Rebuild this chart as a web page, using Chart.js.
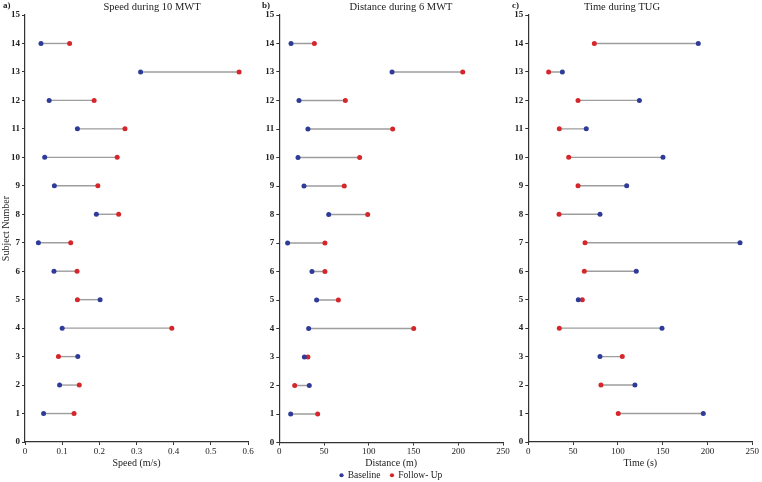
<!DOCTYPE html>
<html>
<head>
<meta charset="utf-8">
<script src="https://cdn.jsdelivr.net/npm/chart.js@4.4.0/dist/chart.umd.min.js"></script>
<style>
  html, body { margin: 0; padding: 0; background: #fff; overflow: hidden; }
  #wrap { position: relative; width: 762px; height: 482px; }
  canvas { position: absolute; top: 0; }
</style>
</head>
<body>
<div id="wrap">
  <canvas id="speedChart" width="256" height="482" style="left:0px"></canvas>
  <canvas id="timeChart" width="254" height="482" style="left:508px"></canvas>
  <canvas id="distChart" width="256" height="490" style="left:256px"></canvas>
</div>
<script>
// data
const subjects = [1, 2, 3, 4, 5, 6, 7, 8, 9, 10, 11, 12, 13, 14];
const subjectTicks = [0, 1, 2, 3, 4, 5, 6, 7, 8, 9, 10, 11, 12, 13, 14, 15];

const speedBaseline = [0.050, 0.093, 0.142, 0.100, 0.202, 0.078, 0.036, 0.192, 0.079, 0.053, 0.141, 0.065, 0.311, 0.043];
const speedFollowUp = [0.132, 0.146, 0.090, 0.395, 0.141, 0.140, 0.123, 0.252, 0.196, 0.248, 0.269, 0.186, 0.576, 0.120];
const speedTicks = [0, 0.1, 0.2, 0.3, 0.4, 0.5, 0.6];

const distBaseline = [12.7, 33.5, 28, 32.8, 41.7, 36.5, 9.3, 55.2, 27.6, 20.9, 32, 22, 126, 13.1];
const distFollowUp = [42.9, 17.2, 32, 150.2, 66, 51, 51, 98.8, 72.6, 89.8, 126.7, 73.8, 205, 39.2];
const distTicks = [0, 50, 100, 150, 200, 250];

const timeBaseline = [195.3, 119, 80, 149.2, 55.8, 120.5, 236.3, 80, 109.8, 150.3, 64.7, 124, 38, 189.7];
const timeFollowUp = [100.4, 81.1, 104.9, 34.6, 60.3, 62.5, 63.3, 34.3, 55.5, 45.1, 34.6, 55.5, 22.7, 73.7];
const timeTicks = [0, 50, 100, 150, 200, 250];

const seriesNames = ['Baseline', 'Follow- Up'];

const serif = '"Liberation Serif", "Times New Roman", serif';
const blue = '#2f3b98';
const red = '#d5272b';
const axisColor = '#333';

// draws the panel letter and the panel title
const panelText = {
    id: 'panelText',
    afterDraw(chart, args, opts) {
        const ctx = chart.ctx;
        ctx.save();
        ctx.fillStyle = '#222';
        ctx.textBaseline = 'middle';
        ctx.font = 'bold 9px ' + serif;
        ctx.textAlign = 'left';
        ctx.fillText(opts.tag, opts.tagX, 6);
        ctx.font = '10.5px ' + serif;
        ctx.textAlign = 'center';
        ctx.fillText(opts.title, opts.titleX, 7);
        ctx.restore();
    }
};

function buildDatasets(baseline, followUp) {
    const sets = [
        {
            label: seriesNames[0],
            data: subjects.map((s, i) => ({x: baseline[i], y: s})),
            backgroundColor: blue,
            borderColor: blue,
            pointRadius: 2.5,
            borderWidth: 0
        },
        {
            label: seriesNames[1],
            data: subjects.map((s, i) => ({x: followUp[i], y: s})),
            backgroundColor: red,
            borderColor: red,
            pointRadius: 2.5,
            borderWidth: 0
        }
    ];
    // connecting segments, drawn under the dots
    subjects.forEach((s, i) => {
        sets.push({
            label: '',
            data: [{x: baseline[i], y: s}, {x: followUp[i], y: s}],
            showLine: true,
            borderColor: '#9d9d9d',
            borderWidth: 1.4,
            pointRadius: 0
        });
    });
    return sets;
}

function makeChart(id, o) {
    const ctx = document.getElementById(id).getContext('2d');
    return new Chart(ctx, {
        type: 'scatter',
        data: { datasets: buildDatasets(o.baseline, o.followUp) },
        plugins: [panelText],
        options: {
            responsive: false,
            animation: false,
            layout: { padding: { top: 15, right: o.padRight, bottom: o.padBottom, left: 0 } },
            plugins: {
                tooltip: { enabled: false },
                legend: {
                    display: o.legend,
                    position: 'bottom',
                    fullSize: false,
                    labels: {
                        usePointStyle: true,
                        pointStyle: 'circle',
                        boxWidth: 3,
                        boxHeight: 3,
                        padding: 10,
                        color: '#222',
                        font: { family: serif, size: 9.5 },
                        filter: item => seriesNames.includes(item.text)
                    }
                },
                panelText: { tag: o.tag, tagX: o.tagX, title: o.title, titleX: o.titleX }
            },
            scales: {
                x: {
                    type: 'linear',
                    min: o.ticks[0],
                    max: o.ticks[o.ticks.length - 1],
                    afterBuildTicks: s => { s.ticks = o.ticks.map(v => ({value: v})); },
                    afterFit: s => { s.height = o.xHeight; },
                    border: { display: true, color: axisColor, width: 1.2 },
                    grid: { drawOnChartArea: false, tickLength: 3, color: axisColor },
                    ticks: { padding: 1, color: '#222', font: { family: serif, size: 9 } },
                    title: {
                        display: true,
                        text: o.xTitle,
                        color: '#222',
                        padding: { top: 0, bottom: o.xTitlePad },
                        font: { family: serif, size: 10 }
                    }
                },
                y: {
                    type: 'linear',
                    min: 0,
                    max: 15,
                    afterBuildTicks: s => { s.ticks = subjectTicks.map(v => ({value: v})); },
                    afterFit: s => { s.width = o.yWidth; },
                    border: { display: true, color: axisColor, width: 1.2 },
                    grid: { drawOnChartArea: false, tickLength: 3, color: axisColor },
                    ticks: { padding: 2, color: '#222', font: { family: serif, size: 9, weight: 'bold' } },
                    title: {
                        display: o.yTitle !== '',
                        text: o.yTitle,
                        color: '#222',
                        padding: 0,
                        font: { family: serif, size: 10 }
                    }
                }
            }
        }
    });
}

makeChart('speedChart', {
    baseline: speedBaseline, followUp: speedFollowUp, ticks: speedTicks,
    tag: 'a)', tagX: 3, title: 'Speed during 10 MWT', titleX: 152,
    xTitle: 'Speed (m/s)', yTitle: 'Subject Number',
    yWidth: 25, xHeight: 27, xTitlePad: 0, padRight: 8, padBottom: 13, legend: false
});

makeChart('distChart', {
    baseline: distBaseline, followUp: distFollowUp, ticks: distTicks,
    tag: 'b)', tagX: 6, title: 'Distance during 6 MWT', titleX: 145,
    xTitle: 'Distance (m)', yTitle: '',
    yWidth: 23.3, xHeight: 18, xTitlePad: -9, padRight: 9, padBottom: 0, legend: true
});

makeChart('timeChart', {
    baseline: timeBaseline, followUp: timeFollowUp, ticks: timeTicks,
    tag: 'c)', tagX: 4, title: 'Time during TUG', titleX: 114,
    xTitle: 'Time (s)', yTitle: '',
    yWidth: 20.3, xHeight: 27, xTitlePad: 0, padRight: 9.7, padBottom: 13, legend: false
});
</script>
</body>
</html>
